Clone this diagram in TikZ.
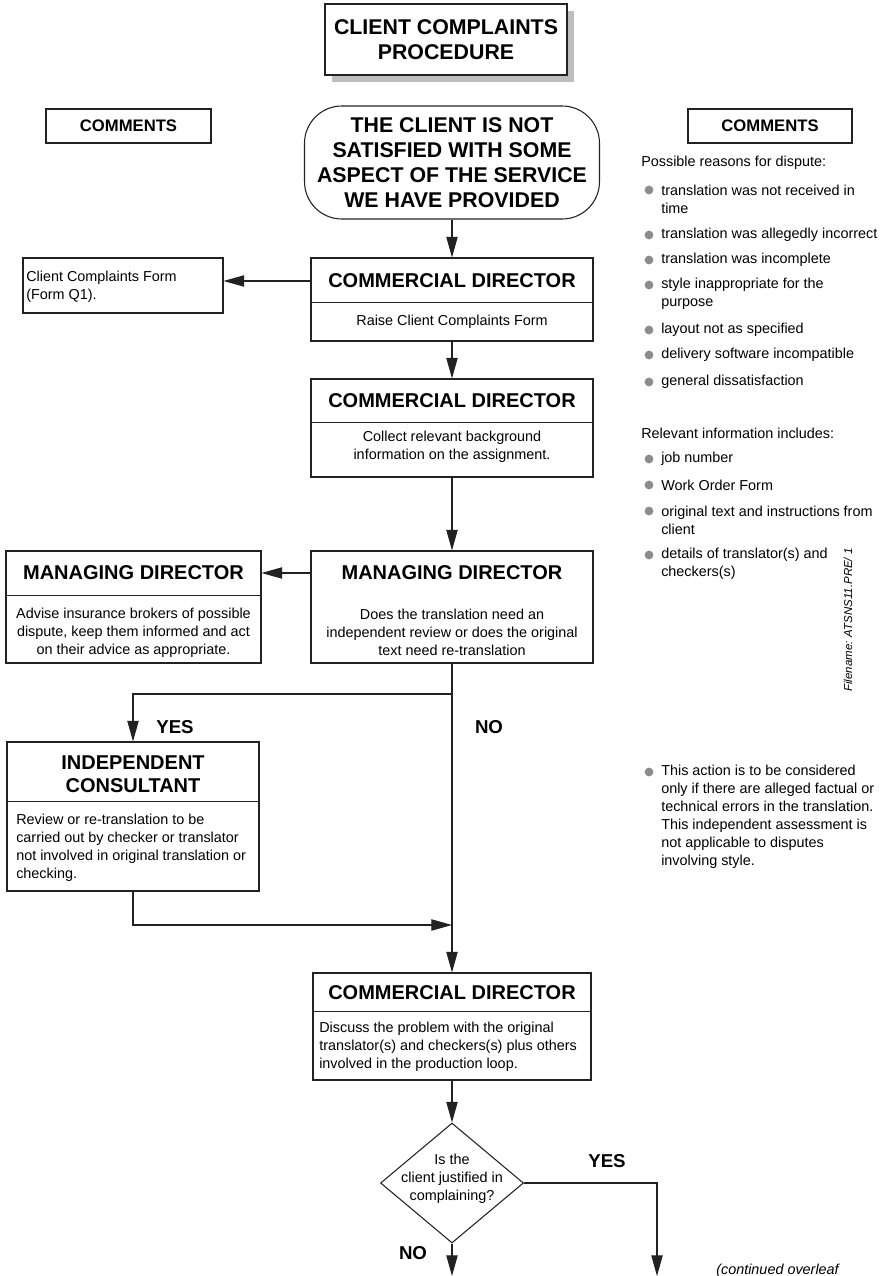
\documentclass[tikz,border=0pt]{standalone}
\usepackage{fontspec}
\setmainfont{Liberation Sans}
\usetikzlibrary{arrows.meta,shapes.geometric,calc,shadows}
\definecolor{lc}{HTML}{222222}
\definecolor{bul}{HTML}{8C8C8C}
\definecolor{shd}{HTML}{BDBDBD}
\begin{document}
\begin{tikzpicture}[x=0.75pt,y=-0.75pt,
  sz/.style 2 args={minimum width=#1*0.75pt, minimum height=#2*0.75pt},
  box/.style={draw=lc, line width=0.8pt, inner sep=0pt},
  hdr/.style={font=\fontsize{15}{17.25}\selectfont\bfseries, align=center, inner sep=0pt},
  bd/.style={font=\fontsize{10.8}{13.5}\selectfont, inner sep=0pt},
  lab/.style={font=\fontsize{14}{16}\selectfont\bfseries, inner sep=0pt},
  conn/.style={draw=lc, line width=0.8pt},
  arr/.style={draw=lc, line width=0.8pt, -{Triangle[length=15.5pt,width=8.5pt]}},
  dot/.style={fill=bul}]
\useasboundingbox (0,0) rectangle (892,1276);

% title
\node[box, sz={242}{71}, fill=white,
  drop shadow={shadow xshift=5.25pt, shadow yshift=-5.25pt, fill=shd, opacity=1},
  font=\fontsize{16}{18.75}\selectfont\bfseries, align=center] (title) at (446,39.5)
  {CLIENT COMPLAINTS\\PROCEDURE};

% comments headers
\node[box, sz={165}{34}, font=\fontsize{12.5}{15}\selectfont\bfseries] (cl) at (128.5,126) {COMMENTS};
\node[box, sz={164}{34}, font=\fontsize{12.5}{15}\selectfont\bfseries] (cr) at (770,126) {COMMENTS};

% start
\node[box, sz={295}{113}, rounded corners=28pt,
  font=\fontsize{16}{18.75}\selectfont\bfseries, align=center] (start) at (452,162.5)
  {THE CLIENT IS NOT\\SATISFIED WITH SOME\\ASPECT OF THE SERVICE\\WE HAVE PROVIDED};

% box 1
\node[box, sz={282}{83}] (b1) at (452,299.5) {};
\node[hdr] (b1h) at (452,281) {COMMERCIAL DIRECTOR};
\draw[conn] ($(b1.north west)+(0,45)$) -- ($(b1.north east)+(0,45)$);
\node[bd] (b1b) at (452,322) {Raise Client Complaints Form};

% client complaints form
\node[box, sz={200}{55}] (ccf) at (123,285.5) {};
\node[bd, anchor=west, align=left] (ccft) at (26,286.5) {Client Complaints Form\\(Form Q1).};

% box 2
\node[box, sz={282}{98}] (b2) at (452,428) {};
\node[hdr] (b2h) at (452,401) {COMMERCIAL DIRECTOR};
\draw[conn] ($(b2.north west)+(0,44)$) -- ($(b2.north east)+(0,44)$);
\node[bd, align=center] (b2b) at (452,447) {Collect relevant background\\information on the assignment.};

% managing director (main)
\node[box, sz={282}{112}] (md) at (452,607) {};
\node[hdr] (mdh) at (452,573) {MANAGING DIRECTOR};
\node[bd, align=center] (mdb) at (452,632.5) {Does the translation need an\\independent review or does the original\\text need re-translation};

% managing director (left)
\node[box, sz={255}{112}] (mdl) at (133.5,607) {};
\node[hdr] (mdlh) at (133.5,573) {MANAGING DIRECTOR};
\draw[conn] ($(mdl.north west)+(0,45)$) -- ($(mdl.north east)+(0,45)$);
\node[bd, align=center] (mdlb) at (133.5,632.5) {Advise insurance brokers of possible\\dispute, keep them informed and act\\on their advice as appropriate.};

% independent consultant
\node[box, sz={252}{149}] (ic) at (133,816.5) {};
\node[hdr] (ich) at (133,774.5) {INDEPENDENT\\CONSULTANT};
\draw[conn] ($(ic.north west)+(0,60)$) -- ($(ic.north east)+(0,60)$);
\node[bd, anchor=west, align=left] (icb) at (16,848) {Review or re-translation to be\\carried out by checker or translator\\not involved in original translation or\\checking.};

% box 3
\node[box, sz={278}{107}] (b3) at (452,1026.5) {};
\node[hdr] (b3h) at (452,993) {COMMERCIAL DIRECTOR};
\draw[conn] ($(b3.north west)+(0,39)$) -- ($(b3.north east)+(0,39)$);
\node[bd, anchor=west, align=left] (b3b) at (319,1047) {Discuss the problem with the original\\translator(s) and checkers(s) plus others\\involved in the production loop.};

% decision
\node[draw=lc, line width=0.8pt, diamond, sz={143}{120}, inner sep=0pt] (dia) at (452,1183) {};
\node[bd, align=center] (diat) at (452,1179) {Is the\\client justified in\\complaining?};

% labels
\node[lab] (yes1) at (175,727) {YES};
\node[lab] (no1) at (489,727) {NO};
\node[lab] (yes2) at (607,1161) {YES};
\node[lab] (no2) at (413,1253) {NO};

% coordinates
\coordinate (j1) at (452,694);
\coordinate (j2) at (452,925);
\coordinate (yend) at (657,1276);
\coordinate (nend) at (452,1276);

% connectors
\draw[arr] (start.south) -- (b1.north);
\draw[arr] (b1h -| b1.west) -- (b1h -| ccf.east);
\draw[arr] (b1.south) -- (b2.north);
\draw[arr] (b2.south) -- (md.north);
\draw[arr] (mdh -| md.west) -- (mdh -| mdl.east);
\draw[arr] (md.south) -- (b3.north);
\draw[arr] (j1) -| (ic.north);
\draw[arr] (ic.south) |- (j2);
\draw[arr] (b3.south) -- (dia.north);
\draw[arr] (dia.east) -| (yend);
\draw[arr] (dia.south) -- (nend);

% right column comments
\node[bd, anchor=west] (pr) at (641,163) {Possible reasons for dispute:};
\fill[dot] (649,190) circle[radius=3.3pt];
\node[bd, anchor=west, align=left] (r1) at (661,199) {translation was not received in\\time};
\fill[dot] (649,235) circle[radius=3.3pt];
\node[bd, anchor=west] (r2) at (661,235) {translation was allegedly incorrect};
\fill[dot] (649,260) circle[radius=3.3pt];
\node[bd, anchor=west] (r3) at (661,260) {translation was incomplete};
\fill[dot] (649,285) circle[radius=3.3pt];
\node[bd, anchor=west, align=left] (r4) at (661,294) {style inappropriate for the\\purpose};
\fill[dot] (649,330) circle[radius=3.3pt];
\node[bd, anchor=west] (r5) at (661,330) {layout not as specified};
\fill[dot] (649,355) circle[radius=3.3pt];
\node[bd, anchor=west] (r6) at (661,355) {delivery software incompatible};
\fill[dot] (649,382) circle[radius=3.3pt];
\node[bd, anchor=west] (r7) at (661,382) {general dissatisfaction};

\node[bd, anchor=west] (ri) at (641,433) {Relevant information includes:};
\fill[dot] (649,459) circle[radius=3.3pt];
\node[bd, anchor=west] (i1) at (661,459) {job number};
\fill[dot] (649,485) circle[radius=3.3pt];
\node[bd, anchor=west] (i2) at (661,485) {Work Order Form};
\fill[dot] (649,511) circle[radius=3.3pt];
\node[bd, anchor=west, align=left] (i3) at (661,520) {original text and instructions from\\client};
\fill[dot] (649,555) circle[radius=3.3pt];
\node[bd, anchor=west, align=left] (i4) at (661,564) {details of translator(s) and\\checkers(s)};

\node[font=\fontsize{8.6}{10}\selectfont\itshape, rotate=90, inner sep=0pt] (fn) at (848,620) {Filename: ATSNS11.PRE/ 1};

\fill[dot] (649,772) circle[radius=3.3pt];
\node[bd, anchor=west, align=left] (ta) at (661,817) {This action is to be considered\\only if there are alleged factual or\\technical errors in the translation.\\This independent assessment is\\not applicable to disputes\\involving style.};

\node[bd, anchor=west, font=\fontsize{10.8}{13.5}\selectfont\itshape] (cont) at (716,1271) {(continued overleaf};
\end{tikzpicture}
\end{document}
